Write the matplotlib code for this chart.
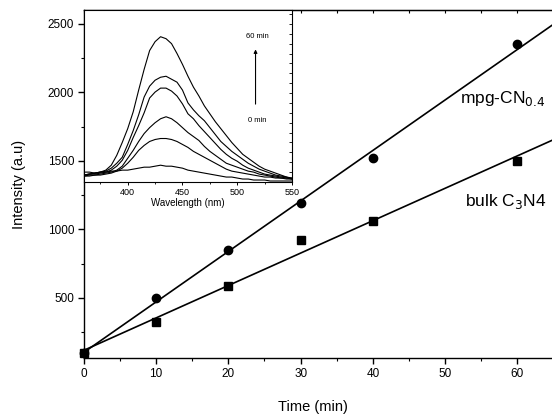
import numpy as np
import matplotlib
matplotlib.use("Agg")
import matplotlib.pyplot as plt
from matplotlib.ticker import MultipleLocator

plt.rcParams['font.family'] = ['Liberation Sans', 'DejaVu Sans']

# ---- main data ----
time_min = [0, 10, 20, 30, 40, 60]
mpg_cn = [100, 500, 850, 1190, 1520, 2350]
bulk_cn = [100, 328, 585, 920, 1058, 1500]

# ---- inset spectra (a.u.) ----
wavelength = [360, 365, 370, 375, 380, 385, 390, 395, 400, 405, 410, 415, 420,
              425, 430, 435, 440, 445, 450, 455, 460, 465, 470, 475, 480, 485,
              490, 495, 500, 505, 510, 515, 520, 525, 530, 535, 540, 545, 550]
spec_0 = [10, 10, 9, 10, 10, 11, 11, 12, 12, 13, 14, 15, 15, 16, 17, 16, 16, 15,
          14, 12, 11, 10, 9, 8, 7, 6, 5, 5, 4, 3, 3, 2, 2, 2, 1, 1, 1, 1, 1]
spec_10 = [6, 6, 7, 7, 8, 9, 11, 14, 19, 25, 32, 37, 41, 43, 44, 44, 43, 41,
           38, 35, 31, 28, 25, 22, 19, 16, 13, 11, 10, 9, 8, 7, 6, 5, 5, 4, 4, 3, 3]
spec_20 = [6, 7, 7, 8, 9, 10, 12, 16, 24, 32, 41, 49, 55, 60, 64, 66, 64, 60,
           55, 50, 46, 42, 36, 31, 27, 23, 19, 17, 15, 13, 11, 10, 8, 7, 6, 5, 4, 4, 3]
spec_30 = [7, 8, 8, 9, 10, 12, 16, 22, 32, 45, 57, 70, 85, 91, 95, 95, 92, 87,
           79, 69, 64, 57, 51, 45, 39, 33, 28, 24, 21, 17, 14, 12, 10, 8, 7, 6, 5, 4, 4]
spec_40 = [7, 8, 9, 10, 11, 14, 19, 25, 38, 52, 68, 86, 97, 103, 106, 107, 104,
           101, 93, 80, 73, 67, 62, 55, 48, 41, 36, 31, 27, 23, 19, 16, 13, 11, 9,
           7, 6, 5, 4]
spec_60 = [7, 8, 9, 10, 12, 17, 27, 40, 54, 71, 93, 114, 133, 142, 147, 145, 140,
           130, 119, 107, 96, 87, 77, 69, 61, 54, 47, 40, 34, 28, 24, 20, 16, 13,
           11, 9, 7, 5, 3]
spectra = [spec_0, spec_10, spec_20, spec_30, spec_40, spec_60]

fig = plt.figure(figsize=(5.52, 4.18), dpi=100)
ax = fig.add_axes([0.152, 0.1435, 0.848, 0.8325])

xlim = (0, 64.8)
ylim = (62, 2600)

# fitted lines
xs = np.array(xlim)
for y in (mpg_cn, bulk_cn):
    k, b = np.polyfit(time_min, y, 1)
    ax.plot(xs, k * xs + b, color='black', lw=1.2, clip_on=True, zorder=2)

ax.plot(time_min, mpg_cn, 'o', color='black', ms=6, clip_on=False, zorder=3)
ax.plot(time_min, bulk_cn, 's', color='black', ms=5.5, clip_on=False, zorder=3)

ax.set_xlim(*xlim)
ax.set_ylim(*ylim)
ax.xaxis.set_major_locator(MultipleLocator(10))
ax.xaxis.set_minor_locator(MultipleLocator(5))
ax.yaxis.set_minor_locator(MultipleLocator(250))
ax.set_yticks([500, 1000, 1500, 2000, 2500])
ax.spines['right'].set_visible(False)
for s in ax.spines.values():
    s.set_linewidth(1.0)
ax.tick_params(axis='both', which='major', direction='out', length=4,
               width=1.0, labelsize=8.5, pad=3)
ax.tick_params(axis='both', which='minor', direction='out', length=2.5, width=0.8)

ax.set_xlabel('Time (min)', fontsize=10.5)
ax.xaxis.set_label_coords(0.489, -0.141)
ax.xaxis.label.set_va('center')
ax.set_ylabel('Intensity (a.u)', fontsize=10.5)
ax.yaxis.set_label_coords(-0.139, 0.5)
ax.yaxis.label.set_va('center')

# top ticks inward
sec = ax.secondary_xaxis('top')
sec.xaxis.set_major_locator(MultipleLocator(5))
sec.tick_params(direction='in', length=2, width=0.8, labeltop=False)

fig.text(460 / 552, 1 - 103 / 418, 'mpg-CN$_{0.4}$', fontsize=12.5,
         ha='left', va='baseline')
fig.text(465 / 552, 1 - 206 / 418, 'bulk C$_3$N4', fontsize=12.5,
         ha='left', va='baseline')

# ---- inset ----
ins = fig.add_axes([0.152, 0.5646, 0.377, 0.4114])
for sp in spectra:
    ins.plot(wavelength, sp, color='black', lw=0.8)
ins.set_xlim(360, 550)
ins.set_ylim(0, 174)
ins.set_xticks([400, 450, 500, 550])
ins.xaxis.set_minor_locator(MultipleLocator(25))
ins.yaxis.set_major_locator(MultipleLocator(20))
ins.yaxis.set_minor_locator(MultipleLocator(10))
ins.tick_params(axis='x', which='major', direction='out', length=2.5,
                width=0.7, labelsize=6.5, pad=1.5)
ins.tick_params(axis='x', which='minor', direction='out', length=1.5, width=0.6)
ins.tick_params(axis='y', which='both', left=False, right=True, direction='in',
                labelleft=False, length=2, width=0.6)
for s in ins.spines.values():
    s.set_linewidth(0.8)
ins.set_xlabel('Wavelength (nm)', fontsize=7, labelpad=1)
ins.annotate('', xy=(516.7, 137), xytext=(516.7, 76),
             arrowprops=dict(arrowstyle='-|>', color='black', lw=0.8,
                             mutation_scale=5))
ins.text(518, 147, '60 min', fontsize=5.5, ha='center', va='center')
ins.text(518, 62, '0 min', fontsize=5.5, ha='center', va='center')

fig.savefig('out.png', dpi=100)
